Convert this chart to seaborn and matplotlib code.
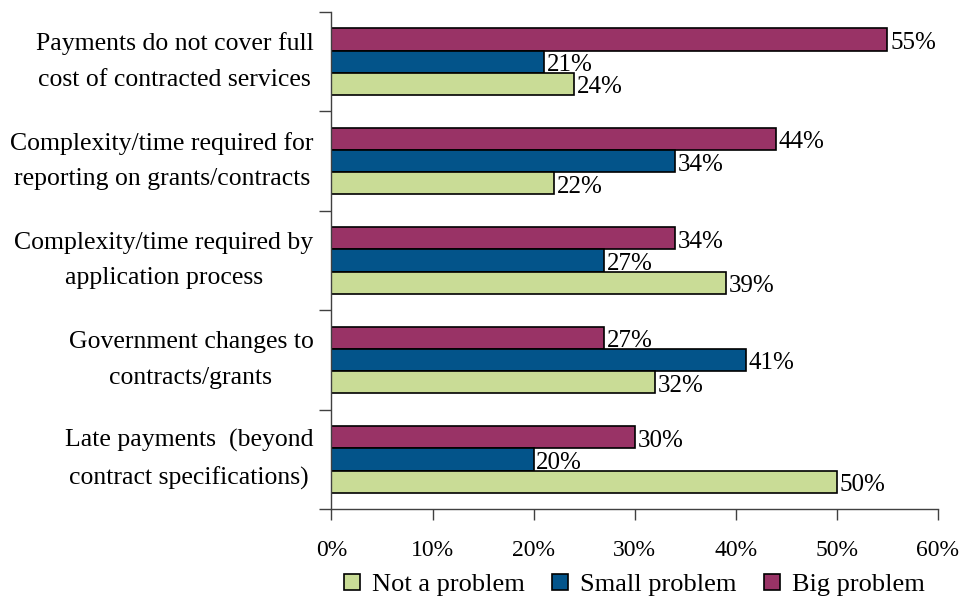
import pandas as pd
import matplotlib.pyplot as plt
import seaborn as sns

# chart data
categories = [
    'Payments do not cover full\ncost of contracted services',
    'Complexity/time required for\nreporting on grants/contracts',
    'Complexity/time required by\napplication process',
    'Government changes to\ncontracts/grants',
    'Late payments  (beyond\ncontract specifications)',
]
big_problem = [55, 44, 34, 27, 30]
small_problem = [21, 34, 27, 41, 20]
not_a_problem = [24, 22, 39, 32, 50]
series_names = ['Not a problem', 'Small problem', 'Big problem']
x_ticks = [0, 10, 20, 30, 40, 50, 60]

colors = {'Not a problem': '#C9DC96', 'Small problem': '#03548A', 'Big problem': '#993366'}

rows = []
for name, vals in zip(series_names, [not_a_problem, small_problem, big_problem]):
    for cat, v in zip(categories, vals):
        rows.append({'category': cat, 'series': name, 'value': v})
df = pd.DataFrame(rows)

sns.set_style('ticks')
plt.rcParams['font.family'] = ['Liberation Serif', 'DejaVu Serif']
plt.rcParams['text.color'] = 'black'
plt.rcParams['xtick.color'] = '#404040'
plt.rcParams['ytick.color'] = '#404040'
plt.rcParams['xtick.labelcolor'] = 'black'
plt.rcParams['ytick.labelcolor'] = 'black'

fig = plt.figure(figsize=(9.61, 5.99), dpi=100)
ax = fig.add_axes([0.3449, 0.150, 0.631, 0.830])

hue_order = ['Big problem', 'Small problem', 'Not a problem']
sns.barplot(data=df, x='value', y='category', hue='series', hue_order=hue_order,
            order=categories, palette=colors, saturation=1, width=0.67, orient='h',
            edgecolor='black', linewidth=1.2, ax=ax, legend=False)

for cont in ax.containers:
    texts = ax.bar_label(cont, fmt='%d%%', padding=2, fontsize=18, color='black')
    for t in texts:
        t.xyann = (2, -2.5)

ax.set_xlim(0, 60)
ax.set_ylim(4.5, -0.5)
ax.set_xticks(x_ticks)
ax.set_xticklabels([f'{t}%' for t in x_ticks], fontsize=17)
ax.tick_params(axis='x', direction='out', length=8, width=1, pad=14)
ax.tick_params(axis='y', which='major', length=0, pad=13, labelsize=18.5)
ax.set_yticks([i + 0.5 for i in range(-1, 5)], minor=True)
ax.tick_params(axis='y', which='minor', left=True, direction='out', length=9, width=1)
for lbl in ax.get_yticklabels():
    lbl.set_multialignment('center')
    lbl.set_linespacing(1.8)
    lbl.set_verticalalignment('center')
ax.set_xlabel('')
ax.set_ylabel('')
for s in ['top', 'right']:
    ax.spines[s].set_visible(False)
for s in ['left', 'bottom']:
    ax.spines[s].set_color('#404040')
    ax.spines[s].set_linewidth(1)

handles = [plt.Rectangle((0, 0), 1, 1, facecolor=colors[n], edgecolor='black', linewidth=1.2)
           for n in series_names]
fig.legend(handles, series_names, loc='lower center', bbox_to_anchor=(0.66, -0.035), ncol=3,
           frameon=False, fontsize=19, handlelength=0.6, handleheight=0.6,
           handletextpad=0.45, columnspacing=1.05)

fig.savefig('out.png', dpi=100)
